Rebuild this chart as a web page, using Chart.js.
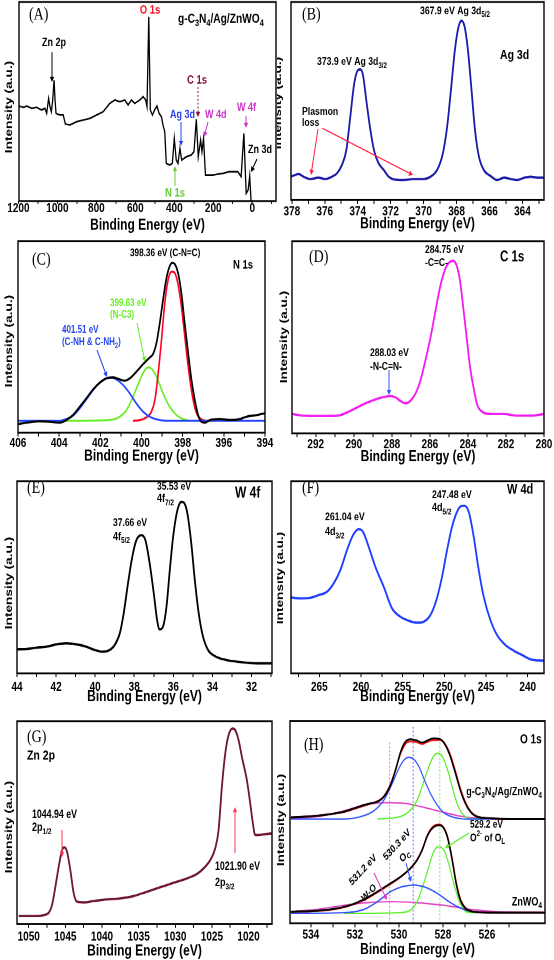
<!DOCTYPE html>
<html>
<head>
<meta charset="utf-8">
<script src="https://cdn.jsdelivr.net/npm/chart.js@4.4.1/dist/chart.umd.min.js"></script>
<style>
html, body { margin: 0; padding: 0; background: #fff; }
#fig { position: relative; width: 554px; height: 960px; overflow: hidden; }
.panel { position: absolute; width: 277px; height: 240px; overflow: hidden; }
.panel .inner { width: 277px; height: 185px; transform: scaleY(1.2973); transform-origin: 0 0; }
</style>
</head>
<body>
<div id="fig">
  <div class="panel" style="left:0;top:0"><div class="inner"><canvas id="cA"></canvas></div></div>
  <div class="panel" style="left:277px;top:0"><div class="inner"><canvas id="cB"></canvas></div></div>
  <div class="panel" style="left:0;top:240px"><div class="inner"><canvas id="cC"></canvas></div></div>
  <div class="panel" style="left:277px;top:240px"><div class="inner"><canvas id="cD"></canvas></div></div>
  <div class="panel" style="left:0;top:480px"><div class="inner"><canvas id="cE"></canvas></div></div>
  <div class="panel" style="left:277px;top:480px"><div class="inner"><canvas id="cF"></canvas></div></div>
  <div class="panel" style="left:0;top:720px"><div class="inner"><canvas id="cG"></canvas></div></div>
  <div class="panel" style="left:277px;top:720px"><div class="inner"><canvas id="cH"></canvas></div></div>
</div>
<script>
// (A) survey
const surveyEnergy = [1197,1174,1157,1132,1106,1081,1064,1055,1045,1038,1031,1024,1017,1012,1007,987,970,959,936,901,867,833,799,765,731,705,680,654,637,620,603,577,560,547,540,531,523,512,501,489,478,466,458,449,441,424,410,400,390,381,371,362,338,313,299,287,277,265,258,250,240,202,151,117,74,57,43,31,21,13,6,1];
const surveyCounts = [285,281,285,278,281,273,278,263,308,283,268,303,363,303,263,258,258,231,228,238,243,248,258,268,293,303,298,303,288,303,293,303,313,303,283,553,273,258,273,285,263,253,228,208,113,108,113,188,123,113,158,123,133,138,148,245,133,183,148,188,78,78,83,88,88,73,203,23,33,75,0,-17];
const surveyTicks = [1200,1000,800,600,400,200,0];
const surveyMinor = [1100,900,700,500,300,100,-100];

// (B) Ag 3d
const ag3dEnergy = [378.04,377.59,377.29,376.88,376.38,375.97,375.57,375.26,374.96,374.69,374.45,374.21,373.98,373.84,373.68,373.48,373.23,372.99,372.73,372.42,372.12,371.81,371.20,370.60,369.99,369.58,369.18,368.83,368.57,368.32,368.10,367.90,367.70,367.51,367.31,367.09,366.88,366.64,366.34,365.93,365.53,365.12,364.71,364.31,363.90,363.50,363.09,362.69];
const ag3dCounts = [70,78,70,63,67,63,70,80,105,150,250,350,390,392,375,300,210,145,110,90,70,62,60,63,63,70,90,140,220,340,450,515,538,520,450,330,210,130,90,72,60,67,63,60,67,70,67,67];
const ag3dTicks = [378,376,374,372,370,368,366,364];
const ag3dMinor = [377,375,373,371,369,367,365,363];

// (C) N 1s
const n1sEnergy = [406.00,405.59,404.95,404.46,403.97,403.65,403.33,403.00,402.68,402.35,402.03,401.71,401.38,401.06,400.81,400.57,400.25,399.92,399.60,399.44,399.27,399.11,398.95,398.79,398.63,398.50,398.38,398.22,398.06,397.90,397.73,397.57,397.41,397.25,397.09,396.92,396.68,396.19,395.71,395.22,394.90,394.41,394.00];
const n1sEnvelope = [26,30,34,33,30,38,53,78,103,130,150,163,166,160,156,163,183,206,226,236,270,330,400,463,500,510,506,478,418,328,238,158,98,53,33,30,38,41,38,41,48,53,58];
const n1sRedEnergy = [400.41,400.08,399.76,399.52,399.35,399.19,399.03,398.87,398.71,398.54,398.41,398.25,398.09,397.93,397.77,397.60,397.44,397.28,397.09,396.84,396.52];
const n1sRed = [36,38,46,63,98,178,278,388,458,483,481,453,393,308,218,138,83,53,40,36,36];
const n1sGreenEnergy = [403.65,401.54,401.06,400.73,400.41,400.08,399.84,399.68,399.52,399.27,398.95,398.63,398.30,397.98,397.65,396.84];
const n1sGreen = [36,38,48,68,108,158,188,196,193,168,118,78,53,41,36,36];
const n1sBlueEnergy = [406.00,403.97,403.65,403.33,403.00,402.68,402.35,402.03,401.71,401.46,401.22,400.89,400.57,400.25,399.92,399.60,399.27,398.79,394.00];
const n1sBlue = [36,36,41,51,73,100,128,150,163,165,160,143,118,88,63,48,40,36,36];
const n1sTicks = [406,404,402,400,398,396,394];
const n1sMinor = [405,403,401,399,397,395];

// (D) C 1s
const c1sEnergy = [293.25,292.63,291.93,291.23,290.70,290.26,289.82,289.39,288.95,288.51,288.07,287.81,287.54,287.28,287.02,286.75,286.49,286.23,285.96,285.70,285.44,285.18,284.95,284.77,284.60,284.42,284.25,284.07,283.89,283.68,283.51,283.25,282.81,282.11,281.40,280.70,280.00];
const c1sCounts = [58,53,52,52,55,65,78,90,100,108,112,108,97,90,98,120,160,220,290,370,445,495,515,518,505,460,380,290,200,130,85,65,58,58,53,53,58];
const c1sTicks = [292,290,288,286,284,282,280];
const c1sMinor = [293,291,289,287,285,283,281];

// (E) W 4f
const w4fEnergy = [44.00,43.52,43.01,42.50,41.99,41.47,40.96,40.45,40.02,39.60,39.26,39.00,38.74,38.54,38.32,38.10,37.89,37.63,37.43,37.21,37.00,36.83,36.70,36.53,36.35,36.18,36.01,35.81,35.59,35.45,35.28,35.08,34.90,34.70,34.48,34.22,33.88,33.28,32.60,31.75,30.98];
const w4fCounts = [72,73,77,80,87,90,87,80,70,65,70,85,120,180,270,350,400,415,400,330,240,160,132,140,200,310,410,485,515,512,480,390,280,180,110,70,52,40,34,30,30];
const w4fTicks = [44,42,40,38,36,34,32];
const w4fMinor = [43,41,39,37,35,33,31];

// (F) W 4d
const w4dEnergy = [268.40,267.28,266.08,265.08,264.08,263.28,262.48,261.68,260.96,260.28,259.76,259.08,258.28,257.28,256.28,255.28,254.28,253.28,252.48,251.68,250.96,250.28,249.68,249.08,248.48,248.00,247.60,247.08,246.48,245.88,245.28,244.48,243.68,242.68,241.68,240.68,239.68,238.08];
const w4dCounts = [228,225,227,235,245,270,310,370,415,433,425,380,320,260,195,170,158,152,155,175,220,290,370,440,485,502,503,485,410,310,230,160,115,85,68,55,42,38];
const w4dTicks = [265,260,255,250,245,240];
const w4dMinor = [267.5,262.5,257.5,252.5,247.5,242.5];

// (G) Zn 2p
const zn2pEnergy = [1051.36,1050.23,1048.86,1047.95,1047.27,1046.82,1046.36,1045.91,1045.45,1045.14,1044.77,1044.32,1043.86,1043.41,1042.50,1041.14,1039.32,1037.50,1035.68,1033.86,1032.50,1031.14,1029.77,1028.41,1027.05,1026.14,1025.23,1024.55,1024.09,1023.64,1023.18,1022.73,1022.18,1021.82,1021.36,1020.91,1020.23,1019.77,1019.41,1019.09,1018.64,1017.73,1016.82];
const zn2pCounts = [22,22,22,25,32,55,110,170,220,228,215,160,90,65,63,67,72,75,82,95,105,115,125,135,148,165,190,225,280,410,510,565,585,580,550,500,430,360,300,265,265,268,270];
const zn2pTicks = [1050,1045,1040,1035,1030,1025,1020];
const zn2pMinor = [1047.5,1042.5,1037.5,1032.5,1027.5,1022.5,1017.5];

// (H) O 1s, upper = g-C3N4/Ag/ZnWO4, lower = ZnWO4
const hUpperEnergy = [534.91,534.30,533.70,533.09,532.49,532.04,531.58,531.28,530.98,530.68,530.38,530.15,529.92,529.70,529.47,529.17,528.94,528.72,528.42,528.11,527.89,527.66,527.43,527.21,526.98,526.75,526.45,525.85,524.94,523.36];
const hUpperEnvelope = [318,320,323,328,335,345,355,360,365,380,415,460,515,545,552,548,542,548,555,552,535,500,450,400,360,335,320,315,313,313];
const hUpperSum = [318,320,323,328,334,343,353,359,366,382,418,462,510,538,546,543,538,544,550,550,537,505,456,405,364,337,321,315,313,313];
const hUpperBlueEnergy = [534.91,532.49,531.74,531.13,530.68,530.30,530.00,529.77,529.55,529.32,529.09,528.87,528.57,528.26,527.96,527.51,526.91,523.36];
const hUpperBlue = [313,313,320,338,370,420,465,490,498,492,470,435,390,355,332,318,313,313];
const hUpperGreenEnergy = [530.98,530.08,529.55,529.17,528.87,528.64,528.42,528.22,528.04,527.81,527.58,527.36,527.13,526.83,526.15];
const hUpperGreen = [313,318,335,370,425,470,502,510,502,465,410,360,330,315,313];
const hUpperPinkEnergy = [534.91,533.70,532.49,531.58,530.68,529.77,528.87,527.96,527.06,526.15,523.36];
const hUpperPink = [315,320,338,355,362,360,348,333,320,315,313];
const hLowerEnergy = [534.91,533.70,532.79,532.19,531.58,530.98,530.38,529.92,529.47,529.17,528.94,528.72,528.55,528.34,528.16,527.96,527.78,527.58,527.40,527.21,526.98,526.60,525.70,523.36];
const hLowerEnvelope = [35,38,45,55,72,95,120,140,165,190,220,260,280,292,294,285,255,190,120,70,45,35,32,32];
const hLowerSum = [35,37,44,54,70,93,118,139,166,192,222,262,283,295,297,287,258,195,125,74,47,35,32,32];
const hLowerBlueEnergy = [534.91,532.49,531.58,530.98,530.38,529.85,529.32,528.79,528.26,527.66,527.06,526.30,523.36];
const hLowerBlue = [30,32,42,65,95,110,115,108,90,62,42,33,32];
const hLowerGreenEnergy = [532.49,529.92,529.47,529.17,528.87,528.64,528.42,528.19,527.96,527.74,527.51,527.28,527.06,526.75,526.15];
const hLowerGreen = [30,32,40,65,120,170,215,230,220,180,120,70,42,32,32];
const hLowerPinkEnergy = [534.91,533.70,532.49,531.43,530.38,529.17,527.96,526.75,525.55,523.36];
const hLowerPink = [35,42,54,62,65,62,54,42,35,32];
const hRefEnergy = [530.42, 529.35, 528.14];
const hRefTop = [545, 595, 595];
const o1sTicks = [534,532,530,528,526];
const o1sMinor = [533,531,529,527,525];

const S = 240 / 185;   // canvases are stretched vertically like the source figure
const SANS = "'Liberation Sans', Arial, Helvetica, sans-serif";
const SERIF = "'Liberation Serif', 'Times New Roman', serif";

function richParts(str) {
    const out = [];
    const re = /([_^])\{([^}]*)\}/g;
    let last = 0, m;
    while ((m = re.exec(str))) {
        if (m.index > last) out.push({ t: str.slice(last, m.index), m: 0 });
        out.push({ t: m[2], m: m[1] === "_" ? 1 : 2 });
        last = re.lastIndex;
    }
    if (last < str.length) out.push({ t: str.slice(last), m: 0 });
    return out;
}

function drawRich(ctx, n) {
    const size = n.size || 8.7;
    const fam = n.serif ? SERIF : SANS;
    const weight = n.serif ? "" : "bold ";
    const parts = richParts(n.text);
    const fontFor = p => weight + (p.m ? size * 0.72 : size) + "px " + fam;
    let w = 0;
    parts.forEach(p => { ctx.font = fontFor(p); p.w = ctx.measureText(p.t).width; w += p.w; });
    ctx.save();
    ctx.translate(n.x, n.y / S);
    if (n.rot) ctx.rotate(n.rot * Math.PI / 180);
    let x = n.align === "right" ? -w : n.align === "center" ? -w / 2 : 0;
    ctx.fillStyle = n.color || "#000";
    ctx.textBaseline = "middle";
    ctx.textAlign = "left";
    parts.forEach(p => {
        ctx.font = fontFor(p);
        const dy = p.m === 1 ? size * 0.32 : p.m === 2 ? -size * 0.35 : 0;
        ctx.fillText(p.t, x, dy);
        x += p.w;
    });
    ctx.restore();
}

function drawArrow(ctx, a) {
    const x1 = a.x1, y1 = a.y1 / S, x2 = a.x2, y2 = a.y2 / S;
    const ang = Math.atan2(y2 - y1, x2 - x1);
    const hl = 4, hw = 2.2;
    const bx = x2 - hl * Math.cos(ang), by = y2 - hl * Math.sin(ang);
    ctx.save();
    ctx.strokeStyle = a.color;
    ctx.fillStyle = a.color;
    ctx.lineWidth = 1;
    if (a.dash) ctx.setLineDash([1.5, 1.5]);
    ctx.beginPath();
    ctx.moveTo(x1, y1);
    ctx.lineTo(bx, by);
    ctx.stroke();
    ctx.setLineDash([]);
    ctx.beginPath();
    ctx.moveTo(x2, y2);
    ctx.lineTo(bx + hw * Math.sin(ang), by - hw * Math.cos(ang));
    ctx.lineTo(bx - hw * Math.sin(ang), by + hw * Math.cos(ang));
    ctx.closePath();
    ctx.fill();
    ctx.restore();
}

function decor(p) {
    return {
        id: "decor",
        afterDraw(chart) {
            const { ctx, chartArea: a } = chart;
            ctx.save();
            ctx.strokeStyle = "#000";
            ctx.lineWidth = 1.4;
            ctx.strokeRect(a.left, a.top, a.right - a.left, a.bottom - a.top);
            ctx.translate(p.box.ytX, p.box.ytY / S);
            ctx.rotate(-Math.PI / 2);
            ctx.font = "bold 10.5px " + SANS;
            ctx.fillStyle = "#000";
            ctx.textAlign = "center";
            ctx.textBaseline = "middle";
            ctx.fillText("Intensity (a.u.)", 0, 0);
            ctx.restore();
            (p.notes || []).forEach(n => drawRich(ctx, n));
            (p.arrows || []).forEach(ar => drawArrow(ctx, ar));
        }
    };
}

function series(xs, ys, color, extra) {
    return Object.assign({ x: xs, y: ys, color: color }, extra || {});
}

function buildChart(id, p) {
    const b = p.box;
    const H = 185;
    const tl = b.tickLen || 3;
    const majors = new Set(p.ticks);
    const tickVals = p.ticks.concat(p.minor);
    return new Chart(document.getElementById(id), {
        type: "line",
        data: {
            datasets: p.series.map(s => ({
                data: s.x.map((x, i) => ({ x: x, y: s.y[i] })),
                borderColor: s.color,
                borderWidth: s.width || 1.6,
                borderDash: s.dash || [],
                pointRadius: 0,
                fill: false,
                tension: s.sharp ? 0 : 0.4,
                cubicInterpolationMode: s.sharp ? "default" : "monotone"
            }))
        },
        options: {
            responsive: true,
            maintainAspectRatio: false,
            animation: false,
            devicePixelRatio: 2,
            events: [],
            layout: { padding: { left: b.left, right: 277 - b.right, top: b.top / S, bottom: 0 } },
            plugins: { legend: { display: false }, tooltip: { enabled: false } },
            scales: {
                x: {
                    type: "linear",
                    reverse: true,
                    min: p.xMin,
                    max: p.xMax,
                    afterBuildTicks: ax => { ax.ticks = tickVals.map(v => ({ value: v })); },
                    afterFit: ax => { ax.height = H - b.bottom / S; },
                    ticks: {
                        autoSkip: false,
                        maxRotation: 0,
                        minRotation: 0,
                        color: "#000",
                        font: { family: SANS, size: 10, weight: "bold" },
                        padding: b.tickGap / S - tl - 2.4,
                        callback: v => majors.has(v) ? String(v) : ""
                    },
                    grid: { display: true, drawOnChartArea: false, drawTicks: true, tickLength: tl, color: "#000", lineWidth: 1 },
                    border: { display: false },
                    title: {
                        display: true,
                        text: "Binding Energy (eV)",
                        color: "#000",
                        font: { family: SANS, size: 12, weight: "bold" },
                        padding: { top: 0, bottom: H - b.titleY / S - 7.2 }
                    }
                },
                y: { display: false, min: p.yMin, max: p.yMax }
            }
        },
        plugins: [decor(p)]
    });
}

const RED = "#ff1020";
const MAG = "#cc33cc";

buildChart("cA", {
    xMin: -122, xMax: 1197, yMin: 0, yMax: 597,
    ticks: surveyTicks, minor: surveyMinor,
    box: { left: 19, right: 276, top: 2, bottom: 201, tickGap: 3, tickLen: 2, titleY: 225, ytX: 9, ytY: 107 },
    series: [series(surveyEnergy, surveyCounts, "#000", { sharp: true, width: 1.3 })],
    notes: [
        { text: "(A)", x: 29, y: 15, serif: true, size: 14 },
        { text: "O 1s", x: 150, y: 10, size: 9.5, color: RED, align: "center" },
        { text: "g-C_{3}N_{4}/Ag/ZnWO_{4}", x: 178, y: 19, size: 10.2 },
        { text: "Zn 2p", x: 42, y: 43, size: 9 },
        { text: "C 1s", x: 187, y: 80, size: 9.5, color: "#8b0a3a" },
        { text: "Ag 3d", x: 170, y: 115, size: 9, color: "#2a3cf0" },
        { text: "W 4d", x: 205, y: 115, size: 9, color: MAG },
        { text: "W 4f", x: 237, y: 108, size: 9, color: MAG },
        { text: "Zn 3d", x: 248, y: 150, size: 9 },
        { text: "N 1s", x: 165, y: 193, size: 9.5, color: "#66cc33" }
    ],
    arrows: [
        { x1: 52, y1: 52, x2: 52, y2: 82, color: "#000" },
        { x1: 198, y1: 87, x2: 198, y2: 117, color: "#8b0a3a", dash: true },
        { x1: 181, y1: 122, x2: 181, y2: 146, color: "#2a3cf0" },
        { x1: 208, y1: 122, x2: 204, y2: 137, color: MAG },
        { x1: 246, y1: 116, x2: 246, y2: 128, color: MAG },
        { x1: 257, y1: 159, x2: 251, y2: 172, color: "#000" },
        { x1: 175, y1: 186, x2: 175, y2: 166, color: "#66cc33" }
    ]
});

buildChart("cB", {
    xMin: 362.69, xMax: 378.05, yMin: 0, yMax: 594,
    ticks: ag3dTicks, minor: ag3dMinor,
    box: { left: 14, right: 267, top: 2, bottom: 200, tickGap: 7, titleY: 224, ytX: 1, ytY: 103 },
    series: [series(ag3dEnergy, ag3dCounts, "#1b1ba8", { width: 1.8 })],
    notes: [
        { text: "(B)", x: 25, y: 15, serif: true, size: 14 },
        { text: "367.9 eV Ag 3d_{5/2}", x: 143, y: 11, size: 8.7 },
        { text: "373.9 eV Ag 3d_{3/2}", x: 40, y: 62, size: 8.7 },
        { text: "Ag 3d", x: 223, y: 55, size: 10.5 },
        { text: "Plasmon", x: 25, y: 112, size: 8.7 },
        { text: "loss", x: 25, y: 123, size: 8.7 }
    ],
    arrows: [
        { x1: 41, y1: 129, x2: 34, y2: 175, color: "#ff2040" },
        { x1: 45, y1: 128, x2: 136, y2: 175, color: "#ff2040" }
    ]
});

buildChart("cC", {
    xMin: 394, xMax: 406, yMin: 0, yMax: 575,
    ticks: n1sTicks, minor: n1sMinor,
    box: { left: 18, right: 265, top: 1, bottom: 192.7, tickGap: 6, titleY: 216, ytX: 9, ytY: 101 },
    series: [
        series(n1sEnergy, n1sEnvelope, "#000", { width: 1.7 }),
        series(n1sBlueEnergy, n1sBlue, "#2244ff", { width: 1.5 }),
        series(n1sRedEnergy, n1sRed, "#ff0022", { width: 1.6 }),
        series(n1sGreenEnergy, n1sGreen, "#66ee22", { width: 1.5 })
    ],
    notes: [
        { text: "(C)", x: 32, y: 20, serif: true, size: 14 },
        { text: "398.36 eV (C-N=C)", x: 130, y: 13, size: 8.2 },
        { text: "N 1s", x: 233, y: 25, size: 9.5 },
        { text: "399.63 eV", x: 110, y: 63, size: 8, color: "#66ee22" },
        { text: "(N-C3)", x: 110, y: 75, size: 8, color: "#66ee22" },
        { text: "401.51 eV", x: 62, y: 90, size: 8, color: "#2244ee" },
        { text: "(C-NH & C-NH_{2})", x: 62, y: 102, size: 8, color: "#2244ee" }
    ],
    arrows: [
        { x1: 137, y1: 83, x2: 145, y2: 122, color: "#66ee22" },
        { x1: 97, y1: 110, x2: 107, y2: 137, color: "#2244ee" }
    ]
});

buildChart("cD", {
    xMin: 280, xMax: 293.25, yMin: 0, yMax: 577,
    ticks: c1sTicks, minor: c1sMinor,
    box: { left: 15, right: 267, top: 1, bottom: 193.3, tickGap: 7, titleY: 217, ytX: 7, ytY: 97 },
    series: [series(c1sEnergy, c1sCounts, "#f01ef0", { width: 1.8 })],
    notes: [
        { text: "(D)", x: 32, y: 17, serif: true, size: 14 },
        { text: "284.75 eV", x: 148, y: 10, size: 8.5 },
        { text: "-C=C-", x: 148, y: 23, size: 8.5 },
        { text: "C 1s", x: 223, y: 17, size: 11.5 },
        { text: "288.03 eV", x: 93, y: 113, size: 8.5 },
        { text: "-N-C=N-", x: 93, y: 127, size: 8.5 }
    ],
    arrows: [
        { x1: 112, y1: 130, x2: 112, y2: 155, color: "#3050ff" }
    ]
});

buildChart("cE", {
    xMin: 30.95, xMax: 44, yMin: 0, yMax: 577,
    ticks: w4fTicks, minor: w4fMinor,
    box: { left: 17, right: 272, top: 1, bottom: 193.3, tickGap: 9, titleY: 217, ytX: 9, ytY: 103 },
    series: [series(w4fEnergy, w4fCounts, "#000", { width: 1.8 })],
    notes: [
        { text: "(E)", x: 27, y: 8, serif: true, size: 14 },
        { text: "35.53 eV", x: 157, y: 7, size: 8.5 },
        { text: "4f_{7/2}", x: 157, y: 19, size: 9 },
        { text: "37.66 eV", x: 113, y: 43, size: 8.5 },
        { text: "4f_{5/2}", x: 113, y: 57, size: 9 },
        { text: "W 4f", x: 235, y: 13, size: 12 }
    ]
});

buildChart("cF", {
    xMin: 238.05, xMax: 268.4, yMin: 0, yMax: 577,
    ticks: w4dTicks, minor: w4dMinor,
    box: { left: 14, right: 267, top: 1, bottom: 193.3, tickGap: 9, titleY: 217, ytX: 3, ytY: 98 },
    series: [series(w4dEnergy, w4dCounts, "#1f3dff", { width: 1.8 })],
    notes: [
        { text: "(F)", x: 25, y: 8, serif: true, size: 14 },
        { text: "247.48 eV", x: 155, y: 15, size: 8.7 },
        { text: "4d_{5/2}", x: 155, y: 28, size: 9 },
        { text: "261.04 eV", x: 48, y: 37, size: 8.7 },
        { text: "4d_{3/2}", x: 48, y: 52, size: 9 },
        { text: "W 4d", x: 230, y: 10, size: 11 }
    ]
});

buildChart("cG", {
    xMin: 1016.8, xMax: 1051.6, yMin: -2, yMax: 607,
    ticks: zn2pTicks, minor: zn2pMinor,
    box: { left: 17, right: 272, top: 1, bottom: 204, tickGap: 8, titleY: 231, ytX: 9, ytY: 107 },
    series: [series(zn2pEnergy, zn2pCounts, "#6f1632", { width: 1.8 })],
    notes: [
        { text: "(G)", x: 27, y: 17, serif: true, size: 14 },
        { text: "Zn 2p", x: 27, y: 36, size: 10.5 },
        { text: "1044.94 eV", x: 32, y: 95, size: 8.8 },
        { text: "2p_{1/2}", x: 32, y: 108, size: 9 },
        { text: "1021.90 eV", x: 215, y: 147, size: 8.8 },
        { text: "2p_{3/2}", x: 215, y: 163, size: 9 }
    ],
    arrows: [
        { x1: 62, y1: 110, x2: 62, y2: 137, color: "#ff3355" },
        { x1: 235, y1: 133, x2: 235, y2: 87, color: "#ff3355" }
    ]
});

buildChart("cH", {
    xMin: 523.36, xMax: 534.95, yMin: 0, yMax: 607,
    ticks: o1sTicks, minor: o1sMinor,
    box: { left: 13, right: 268, top: 1, bottom: 203.3, tickGap: 7, titleY: 230, ytX: 4, ytY: 100 },
    series: [
        series(hUpperEnergy, hUpperEnvelope, "#000", { width: 1.5 }),
        series(hUpperEnergy, hUpperSum, "#ff1010", { width: 1.4 }),
        series(hLowerEnergy, hLowerEnvelope, "#000", { width: 1.5 }),
        series(hLowerEnergy, hLowerSum, "#ff1010", { width: 1.4 }),
        series(hUpperBlueEnergy, hUpperBlue, "#3050ff", { width: 1.1 }),
        series(hUpperGreenEnergy, hUpperGreen, "#55ee22", { width: 1.1 }),
        series(hUpperPinkEnergy, hUpperPink, "#e040c8", { width: 1.1 }),
        series(hLowerBlueEnergy, hLowerBlue, "#3050ff", { width: 1.1 }),
        series(hLowerGreenEnergy, hLowerGreen, "#55ee22", { width: 1.1 }),
        series(hLowerPinkEnergy, hLowerPink, "#e040c8", { width: 1.1 }),
        series([hRefEnergy[0], hRefEnergy[0]], [0, hRefTop[0]], "#ff66cc", { sharp: true, width: 1, dash: [1.5, 1.5] }),
        series([hRefEnergy[1], hRefEnergy[1]], [0, hRefTop[1]], "#6677ff", { sharp: true, width: 1, dash: [1.5, 1.5] }),
        series([hRefEnergy[2], hRefEnergy[2]], [0, hRefTop[2]], "#77ee66", { sharp: true, width: 1, dash: [1.5, 1.5] })
    ],
    notes: [
        { text: "(H)", x: 27, y: 25, serif: true, size: 14 },
        { text: "O 1s", x: 243, y: 20, size: 10 },
        { text: "g-C_{3}N_{4}/Ag/ZnWO_{4}", x: 265, y: 72, size: 9, align: "right" },
        { text: "ZnWO_{4}", x: 265, y: 182, size: 9, align: "right" },
        { text: "529.2 eV", x: 193, y: 105, size: 8.2 },
        { text: "O^{2-} of O_{L}", x: 193, y: 118, size: 8.5 },
        { text: "531.2 eV", x: 86, y: 150, size: 8.2, rot: -40, align: "center" },
        { text: "530.3 eV", x: 120, y: 125, size: 8.2, rot: -40, align: "center" },
        { text: "W-O", x: 92, y: 173, size: 8.2, rot: -40, align: "center" },
        { text: "O_{C}", x: 128, y: 136, size: 8.5, rot: -40, align: "center" }
    ],
    arrows: [
        { x1: 192, y1: 113, x2: 168, y2: 128, color: "#55ee22" },
        { x1: 129, y1: 143, x2: 134, y2: 162, color: "#3050ff" },
        { x1: 97, y1: 153, x2: 110, y2: 180, color: "#e040c8" }
    ]
});
</script>
</body>
</html>
